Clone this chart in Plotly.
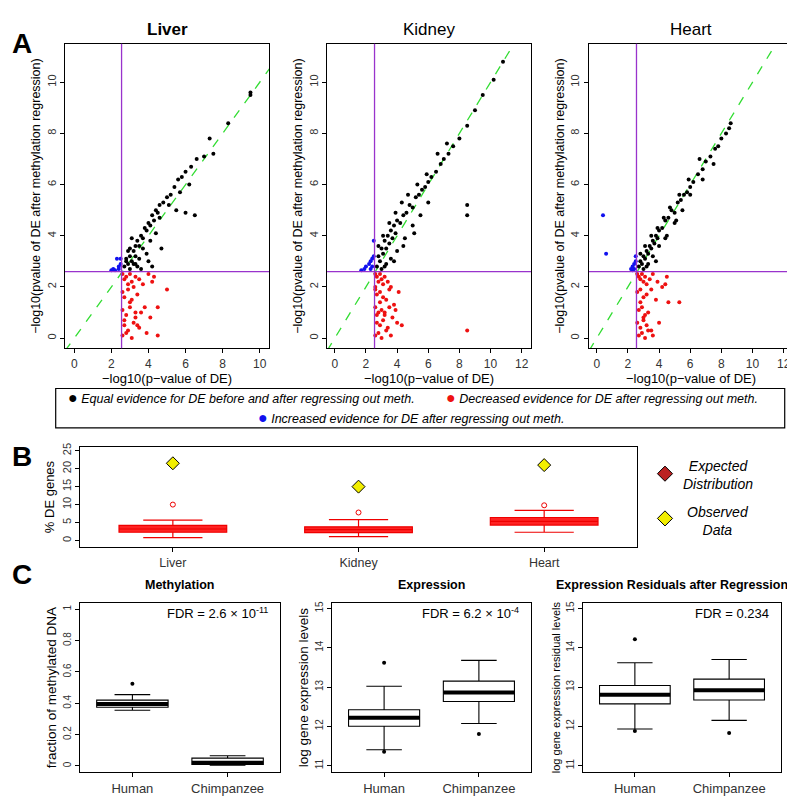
import plotly.graph_objects as go

# ---- panel A data ----
liver_black_x = [2.7,2.8,2.9,3.0,3.0,3.1,3.2,3.3,3.3,3.4,3.5,3.6,3.7,3.8,3.9,4.0,4.1,4.2,4.3,4.4,4.5,4.6,4.8,5.0,5.2,5.4,5.6,5.8,6.0,6.3,6.6,7.0,7.3,8.3,9.5,9.5,3.2,3.5,3.9,4.4,4.7,4.2,5.5,6.0,6.5,4.0,3.6,2.9,3.1,3.4,2.8,3.0,3.3,3.7,4.1,4.6,5.1,5.7,6.2,7.5]
liver_black_y = [2.8,3.0,2.9,3.2,3.5,3.0,3.4,3.6,3.2,3.8,3.6,4.0,3.9,4.3,4.2,4.5,4.4,4.8,4.6,5.0,4.9,5.2,5.3,5.5,5.6,5.9,6.2,6.3,6.5,6.7,7.0,7.1,7.8,8.4,9.5,9.6,2.9,3.1,3.3,4.1,3.5,2.8,5.0,4.9,4.8,3.0,2.7,3.4,3.9,2.8,3.1,2.7,2.9,3.5,3.8,4.7,5.2,5.7,6.0,7.2]
liver_red_x = [2.6,2.7,2.8,2.9,3.0,3.1,3.2,3.3,3.5,3.7,4.0,4.3,2.6,2.7,2.9,3.1,3.4,3.8,4.2,2.6,2.8,3.0,3.3,3.6,2.7,2.9,3.2,3.5,4.1,2.6,2.8,3.1,3.4,3.9,4.5,5.0,4.5,3.0,2.7,3.3]
liver_red_y = [2.5,2.3,2.4,2.1,2.5,2.2,2.0,2.4,2.3,2.1,2.5,2.4,1.8,1.6,1.9,1.5,1.7,1.2,2.2,1.1,0.9,1.2,0.8,1.0,0.5,0.3,0.6,0.4,0.8,0.1,0.2,0.0,0.5,0.2,1.2,1.9,0.1,1.4,0.7,1.0]
liver_blue_x = [2.0,2.1,2.2,2.3,2.4,2.5,2.5,2.4]
liver_blue_y = [2.65,2.7,2.65,3.1,2.8,2.9,3.1,2.7]

kidney_black_x = [2.7,2.8,2.9,3.0,3.1,3.2,3.3,3.4,3.5,3.6,3.7,3.8,3.9,4.0,4.2,4.4,4.6,4.8,5.0,5.2,5.4,5.6,5.8,6.0,6.2,6.5,6.8,7.0,7.3,7.6,8.0,8.5,9.0,9.5,10.2,10.8,3.0,3.3,3.6,4.0,4.5,5.0,5.5,6.0,8.5,8.5,2.8,3.1,3.5,3.9,4.3,4.7,5.3,5.9,6.6,7.2,3.2,3.8,4.4,5.1]
kidney_black_y = [2.8,3.2,3.0,3.5,3.3,3.8,3.5,4.0,3.7,4.2,3.9,4.4,4.1,4.6,4.5,4.8,4.9,5.2,5.1,5.5,5.6,5.8,5.9,6.1,6.3,6.5,6.8,7.0,7.2,7.5,7.8,8.3,8.9,9.5,10.1,10.8,2.7,2.9,3.1,3.4,3.9,4.4,4.8,5.3,5.2,4.8,3.6,4.0,4.5,4.9,5.3,5.6,6.0,6.4,7.2,7.6,2.8,3.0,3.6,4.1]
kidney_red_x = [2.6,2.7,2.8,2.9,3.0,3.1,3.2,3.4,3.6,2.6,2.7,2.9,3.1,3.3,3.5,3.8,4.1,2.6,2.8,3.0,3.2,3.5,2.7,2.9,3.1,3.4,3.7,2.6,2.8,3.0,3.3,3.6,4.0,2.7,2.9,3.2,8.5,4.3,3.9,2.6]
kidney_red_y = [2.5,2.4,2.2,2.5,2.3,2.1,2.4,2.2,2.0,1.9,1.7,1.8,1.6,1.5,1.9,1.3,1.8,1.2,1.0,1.1,0.9,1.2,0.6,0.5,0.7,0.4,0.8,0.1,0.2,0.0,0.3,0.1,0.6,0.9,1.4,1.0,0.3,0.5,1.1,2.0]
kidney_blue_x = [1.7,1.9,2.0,2.2,2.3,2.4,2.5,2.5,2.3,2.4]
kidney_blue_y = [2.65,2.7,2.8,2.9,3.0,3.1,3.2,3.8,2.7,2.8]

heart_black_x = [2.7,2.8,2.9,3.0,3.1,3.2,3.3,3.4,3.5,3.6,3.7,3.8,3.9,4.0,4.2,4.4,4.6,4.8,5.0,5.2,5.4,5.6,5.8,6.0,6.2,6.5,6.8,7.0,7.3,7.6,8.0,8.3,8.6,3.0,3.3,3.6,4.0,4.5,5.0,5.5,6.0,6.8,7.5,2.8,3.1,3.5,3.9,4.3,4.7,5.3,5.9,6.6,3.2,3.8,4.4,5.1,7.8,8.5]
heart_black_y = [2.8,3.0,2.9,3.2,3.1,3.4,3.3,3.6,3.5,3.8,3.7,4.0,3.9,4.2,4.3,4.6,4.7,5.0,4.9,5.3,5.4,5.6,5.7,5.9,6.1,6.4,6.6,6.9,7.1,7.4,7.8,8.0,8.4,2.7,2.9,3.2,3.6,4.0,4.5,5.0,5.6,6.2,6.8,3.3,3.6,4.0,4.3,4.7,5.1,5.6,6.2,7.0,2.8,3.0,3.9,4.6,7.5,8.2]
heart_red_x = [2.6,2.7,2.8,2.9,3.0,3.1,3.2,3.4,3.6,3.9,4.2,4.5,2.6,2.8,3.0,3.2,3.5,3.8,4.6,2.7,2.9,3.1,3.3,5.3,2.6,2.8,3.0,3.2,3.5,2.7,2.9,3.1,3.3,3.6,4.0,4.4,2.8,3.0]
heart_red_y = [2.5,2.4,2.3,2.5,2.2,2.4,2.1,2.3,2.5,2.2,2.0,2.4,1.8,1.9,1.6,1.7,1.9,1.5,1.4,1.1,1.2,0.9,1.0,1.4,0.6,0.4,0.7,0.5,0.3,0.1,0.2,0.0,0.3,0.1,0.6,2.1,1.4,0.8]
heart_blue_x = [0.4,0.6,2.2,2.3,2.4,2.5,2.5,2.4,2.3]
heart_blue_y = [4.8,3.3,2.7,2.8,2.9,3.0,3.2,2.7,2.65]

tissues = ["Liver", "Kidney", "Heart"]
x_max = [10.5, 12.6, 12.6]

# ---- panel B data ----
b_q1 = [2.3, 2.2, 4.3]
b_med = [3.2, 3.0, 5.3]
b_q3 = [4.2, 3.8, 6.4]
b_low = [0.8, 1.1, 2.3]
b_high = [5.7, 5.8, 8.4]
b_out = [10.0, 7.8, 9.8]
b_observed = [21.5, 15.0, 21.0]

# ---- panel C data ----
groups = ["Human", "Chimpanzee"]
c_titles = ["Methylation", "Expression", "Expression Residuals after Regression"]
c_ylab = ["fraction of methylated DNA", "log gene expression levels", "log gene expression residual levels"]
c_fdr = ["FDR = 2.6 × 10<sup>-11</sup>", "FDR = 6.2 × 10<sup>-4</sup>", "FDR = 0.234"]
c_q1 = [[0.375, 0.01], [12.0, 12.63], [12.57, 12.67]]
c_med = [[0.395, 0.02], [12.22, 12.86], [12.8, 12.92]]
c_q3 = [[0.42, 0.05], [12.42, 13.15], [13.04, 13.2]]
c_low = [[0.355, 0.005], [11.4, 12.07], [11.93, 12.15]]
c_high = [[0.455, 0.065], [13.02, 13.68], [13.62, 13.7]]
c_out_x = [[0], [0, 0, 1], [0, 0, 1]]
c_out_y = [[0.525], [13.62, 11.35, 11.8], [14.22, 11.88, 11.83]]
c_range = [[-0.04, 1.04], [10.83, 15.14], [10.83, 15.14]]
c_ticks = [[0, 0.2, 0.4, 0.6, 0.8, 1.0], [11, 12, 13, 14, 15], [11, 12, 13, 14, 15]]

FONT = "Liberation Sans"
fig = go.Figure()

a_dom_x = [[0.0717, 0.3283], [0.4013, 0.6579], [0.7308, 0.9874]]
a_dom_y = [0.5775, 0.96]
data_a = [
    (liver_black_x, liver_black_y, liver_red_x, liver_red_y, liver_blue_x, liver_blue_y),
    (kidney_black_x, kidney_black_y, kidney_red_x, kidney_red_y, kidney_blue_x, kidney_blue_y),
    (heart_black_x, heart_black_y, heart_red_x, heart_red_y, heart_blue_x, heart_blue_y),
]


def axis_common(size=11):
    return dict(showgrid=False, zeroline=False, showline=True, mirror=True, linecolor="black",
                linewidth=1.2, ticks="outside", ticklen=4, tickcolor="black",
                tickfont=dict(size=size, color="#333"))


for i, (bx, by, rx, ry, ux, uy) in enumerate(data_a):
    n = i + 1
    xa, ya = ("x" if n == 1 else f"x{n}"), ("y" if n == 1 else f"y{n}")
    fig.add_trace(go.Scatter(x=[-0.5, 12.6], y=[-0.5, 12.6], mode="lines", xaxis=xa, yaxis=ya,
                             line=dict(color="#33dd33", dash="dash", width=1.3), showlegend=False))
    for xs, ys, col in [(bx, by, "black"), (rx, ry, "#ee1111"), (ux, uy, "#1111ee")]:
        fig.add_trace(go.Scatter(x=xs, y=ys, mode="markers", xaxis=xa, yaxis=ya,
                                 marker=dict(color=col, size=4), showlegend=False))
    fig.add_shape(type="line", xref=xa, yref="paper", x0=2.55, x1=2.55, y0=a_dom_y[0], y1=a_dom_y[1],
                  line=dict(color="#9933cc", width=1.3))
    fig.add_shape(type="line", xref="paper", yref=ya, x0=a_dom_x[i][0], x1=a_dom_x[i][1], y0=2.6, y1=2.6,
                  line=dict(color="#9933cc", width=1.3))
    fig.layout[("xaxis" if n == 1 else f"xaxis{n}")] = dict(
        domain=a_dom_x[i], range=[-0.5, x_max[i]], dtick=2, anchor=ya, **axis_common(12),
        title=dict(text="−log10(p−value of DE)", font=dict(size=13, color="black"), standoff=0))
    fig.layout[("yaxis" if n == 1 else f"yaxis{n}")] = dict(
        domain=a_dom_y, range=[-0.4, 11.5], dtick=2, anchor=xa, tickangle=-90, **axis_common(11),
        title=dict(text="−log10(pvalue of DE after methylation regression)", font=dict(size=12.5, color="black"), standoff=2))
    fig.add_annotation(text=f"<b>{tissues[i]}</b>" if i == 0 else tissues[i], xref="paper", yref="paper",
                       x=sum(a_dom_x[i]) / 2, y=0.963, xanchor="center", yanchor="bottom", showarrow=False,
                       font=dict(size=17, color="black"))

# legend box for panel A
fig.add_shape(type="rect", xref="paper", yref="paper", x0=0.060, x1=0.977, y0=0.4775, y1=0.527,
              line=dict(color="black", width=1.2))
leg_items = [("black", "Equal evidence for DE before and after regressing out meth.", 0.073, 0.5155),
             ("#ee1111", "Decreased evidence for DE after regressing out meth.", 0.549, 0.5155),
             ("#1111ee", "Increased evidence for DE after regressing out meth.", 0.312, 0.4905)]
for col, txt, lx, ly in leg_items:
    fig.add_annotation(text=f"<span style='color:{col};font-size:16px'>●</span> <i>{txt}</i>", xref="paper", yref="paper",
                       x=lx, y=ly, xanchor="left", showarrow=False, font=dict(size=12.5, color="black"))

# ---- panel B ----
for i, t in enumerate(tissues):
    fig.add_trace(go.Box(x=[i], q1=[b_q1[i]], median=[b_med[i]], q3=[b_q3[i]],
                         lowerfence=[b_low[i]], upperfence=[b_high[i]], xaxis="x4", yaxis="y4",
                         fillcolor="#ff2222", line=dict(color="#ee0000", width=1.2), width=0.58,
                         whiskerwidth=0.55, showlegend=False, hoverinfo="skip"))
fig.add_trace(go.Scatter(x=[0, 1, 2], y=b_out, mode="markers", xaxis="x4", yaxis="y4",
                         marker=dict(symbol="circle-open", color="#ee0000", size=5), showlegend=False))
fig.add_trace(go.Scatter(x=[0, 1, 2], y=b_observed, mode="markers", xaxis="x4", yaxis="y4",
                         marker=dict(symbol="diamond", color="#f2ee00", size=10, line=dict(color="black", width=1)),
                         showlegend=False))
fig.layout["xaxis4"] = dict(domain=[0.0906, 0.7912], range=[-0.5, 2.5], anchor="y4", tickvals=[0, 1, 2],
                            ticktext=tissues, **axis_common(12.5))
fig.layout["yaxis4"] = dict(domain=[0.3275, 0.4538], range=[-1.9, 26.1], dtick=5, anchor="x4", tickangle=-90,
                            **axis_common(11), title=dict(text="% DE genes", font=dict(size=13, color="black"), standoff=2))
# legend of panel B: diamonds as paper-referenced path shapes
for col, cy in [("#bb2222", 0.42), ("#f2ee00", 0.3638)]:
    cx = 0.8264
    dx, dy = 0.0095, 0.0095
    fig.add_shape(type="path", xref="paper", yref="paper",
                  path=f"M {cx-dx} {cy} L {cx} {cy+dy} L {cx+dx} {cy} L {cx} {cy-dy} Z",
                  fillcolor=col, line=dict(color="black", width=1))
for txt, ly in [("Expected<br>Distribution", 0.418), ("Observed<br>Data", 0.3606)]:
    fig.add_annotation(text=f"<i>{txt}</i>", xref="paper", yref="paper", x=0.893, y=ly, xanchor="center",
                       showarrow=False, font=dict(size=14, color="black"))

# ---- panel C ----
c_dom_x = [[0.0906, 0.3421], [0.4075, 0.6579], [0.7233, 0.9723]]
c_dom_y = [0.045, 0.2575]
c_title_x = [0.216, 0.533, 0.835]
for k in range(3):
    n = 5 + k
    xa, ya = f"x{n}", f"y{n}"
    for j in range(2):
        fig.add_trace(go.Box(x=[j], q1=[c_q1[k][j]], median=[c_med[k][j]], q3=[c_q3[k][j]],
                             lowerfence=[c_low[k][j]], upperfence=[c_high[k][j]], xaxis=xa, yaxis=ya,
                             fillcolor="white", line=dict(color="black", width=1.1), width=0.75,
                             whiskerwidth=0.5, showlegend=False, hoverinfo="skip"))
        fig.add_trace(go.Scatter(x=[j - 0.375, j + 0.375], y=[c_med[k][j]] * 2, mode="lines", xaxis=xa, yaxis=ya,
                                 line=dict(color="black", width=4), showlegend=False))
    fig.add_trace(go.Scatter(x=c_out_x[k], y=c_out_y[k], mode="markers", xaxis=xa, yaxis=ya,
                             marker=dict(color="black", size=4), showlegend=False))
    fig.layout[f"xaxis{n}"] = dict(domain=c_dom_x[k], range=[-0.55, 1.55], anchor=ya, tickvals=[0, 1],
                                   ticktext=groups, **axis_common(13))
    fig.layout[f"yaxis{n}"] = dict(domain=c_dom_y, range=c_range[k], tickvals=c_ticks[k], anchor=xa,
                                   tickangle=-90, **axis_common(10),
                                   title=dict(text=c_ylab[k], font=dict(size=13.5 if k < 2 else 11, color="black"), standoff=2))
    fig.add_annotation(text=f"<b>{c_titles[k]}</b>", xref="paper", yref="paper", x=c_title_x[k],
                       y=0.269, xanchor="center", showarrow=False, font=dict(size=12.5, color="black"))
    fig.add_annotation(text=c_fdr[k], xref="paper", yref="paper", x=c_dom_x[k][1] - 0.012, y=0.232,
                       xanchor="right", showarrow=False, font=dict(size=13, color="black"))

for lab, ly in [("A", 0.982), ("B", 0.441), ("C", 0.271)]:
    fig.add_annotation(text=f"<b>{lab}</b>", xref="paper", yref="paper", x=0.003, y=ly, xanchor="left",
                       showarrow=False, font=dict(size=28, color="black"))

fig.update_layout(width=795, height=800, margin=dict(l=0, r=0, t=0, b=0), plot_bgcolor="rgba(0,0,0,0)",
                  paper_bgcolor="white", font=dict(family=FONT, color="black"))
fig.write_html("out.html")
